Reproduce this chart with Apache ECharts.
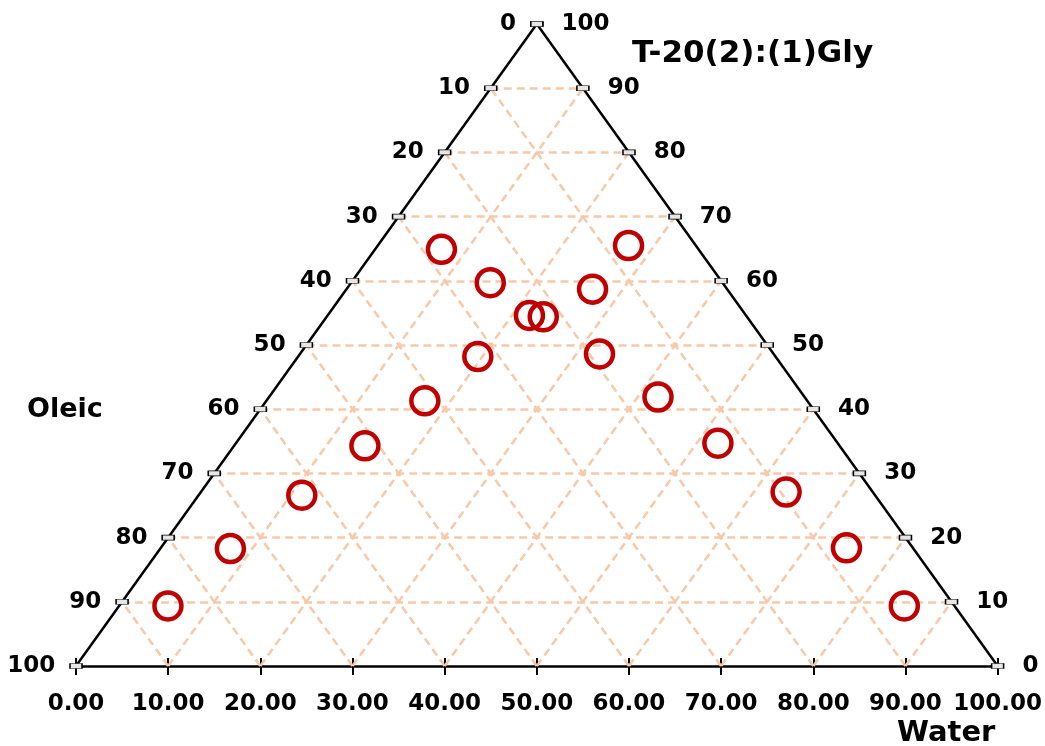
<!DOCTYPE html>
<html>
<head>
<meta charset="utf-8">
<script src="https://cdn.jsdelivr.net/npm/echarts@6/dist/echarts.min.js"></script>
<style>html,body{margin:0;padding:0;background:#fff}#c{width:1045px;height:746px}</style>
</head>
<body>
<div id="c"></div>
<script>
// ---- data (ternary compositions, %) ----
const water      = [7.2, 15.1, 21.9, 23.5, 19.5, 17.2, 14.2, 11.2, 7.6, 5.3, 27.2, 26.7, 32.5, 42.2, 52.3, 63.5, 74.4, 85.2];
const surfactant = [64.9, 59.7, 54.6, 54.4, 48.2, 41.3, 34.3, 26.6, 18.3, 9.35, 65.5, 58.7, 48.6, 41.9, 34.7, 27.1, 18.4, 9.35];
const oleic      = [27.9, 25.2, 23.5, 22.1, 32.3, 41.5, 51.5, 62.2, 74.1, 85.3, 7.3, 14.6, 18.9, 15.9, 13.0, 9.4, 7.2, 5.5];

// ---- tick labels ----
const levels = [0, 10, 20, 30, 40, 50, 60, 70, 80, 90, 100];
const waterTickLabels = ['0.00','10.00','20.00','30.00','40.00','50.00','60.00','70.00','80.00','90.00','100.00'];
const oleicTickLabels = ['100','90','80','70','60','50','40','30','20','10','0'];      // left edge, by surfactant level
const surfTickLabels  = ['0','10','20','30','40','50','60','70','80','90','100'];      // right edge, by surfactant level
const axisNames = { water: 'Water', oleic: 'Oleic', surf: 'T-20(2):(1)Gly' };

// ternary (water, surfactant) -> cartesian in the axis scale
function tern(w, t) { return [w + t / 2, t]; }

const font = '"DejaVu Sans", Verdana, sans-serif';
const gridColor = '#f8c9a8';

// grid lines
const gridLines = [];
levels.slice(1, -1).forEach(v => {
  gridLines.push({ coords: [tern(0, v), tern(100 - v, v)] });          // constant surfactant
  gridLines.push({ coords: [tern(v, 0), tern(v, 100 - v)] });          // constant water
  gridLines.push({ coords: [tern(100 - v, 0), tern(0, 100 - v)] });    // constant oleic
});
const edges = [
  { coords: [tern(0, 0), tern(0, 100)] },
  { coords: [tern(100, 0), tern(0, 100)] }
];

const leftTicks = levels.map((t, i) => ({ value: tern(0, t), label: oleicTickLabels[i] }));
const rightTicks = levels.map((t, i) => ({ value: tern(100 - t, t), label: surfTickLabels[i] }));
const points = water.map((w, i) => tern(w, surfactant[i]));

const labelStyle = { fontFamily: font, fontWeight: 'bold', fontSize: 23, color: '#000', opacity: 1, textBorderWidth: 0 };
const tickSymbol = {
  type: 'scatter', symbol: 'rect', symbolSize: [12, 5], clip: false, z: 5,
  itemStyle: { color: '#e6e6e6', borderColor: '#000', borderWidth: 1, opacity: 1 }
};

const chart = echarts.init(document.getElementById('c'), null, { renderer: 'canvas' });
chart.setOption({
  animation: false,
  backgroundColor: '#fff',
  grid: { left: 76, right: 45, top: 24, bottom: 80, containLabel: false },
  xAxis: [
    {
      type: 'value', min: 0, max: 100, interval: 10,
      splitLine: { show: false },
      axisLine: { show: true, lineStyle: { color: '#000', width: 2.5 } },
      axisTick: { show: true, length: 9, lineStyle: { color: '#000', width: 2 } },
      axisLabel: Object.assign({ margin: 27, formatter: v => waterTickLabels[Math.round(v / 10)] }, labelStyle)
    },
    {
      type: 'value', min: 0, max: 100, interval: 10, position: 'bottom',
      splitLine: { show: false },
      axisLine: { show: false },
      axisTick: { show: true, inside: true, length: 8, lineStyle: { color: '#000', width: 2 } },
      axisLabel: { show: false }
    }
  ],
  yAxis: { type: 'value', min: 0, max: 100, show: false },
  graphic: [
    { type: 'text', left: 27, top: 396, style: { text: axisNames.oleic, font: 'bold 27px "DejaVu Sans"', fill: '#000' } },
    { type: 'text', left: 632, top: 38, style: { text: axisNames.surf, font: 'bold 31px "DejaVu Sans"', fill: '#000' } },
    { type: 'text', left: 897, top: 719, style: { text: axisNames.water, font: 'bold 29px "DejaVu Sans"', fill: '#000' } }
  ],
  series: [
    {
      type: 'lines', coordinateSystem: 'cartesian2d', data: gridLines, clip: false, silent: true, z: 1,
      lineStyle: { color: gridColor, width: 2.5, type: [8, 5], opacity: 1 }
    },
    {
      type: 'lines', coordinateSystem: 'cartesian2d', data: edges, clip: false, silent: true, z: 3,
      lineStyle: { color: '#000', width: 2.5, type: 'solid', opacity: 1 }
    },
    Object.assign({}, tickSymbol, {
      data: leftTicks,
      label: Object.assign({ show: true, position: 'left', distance: 14, formatter: p => p.data.label }, labelStyle)
    }),
    Object.assign({}, tickSymbol, {
      data: rightTicks,
      label: Object.assign({ show: true, position: 'right', distance: 18, formatter: p => p.data.label }, labelStyle)
    }),
    {
      type: 'scatter', data: points, symbol: 'circle', symbolSize: 27, clip: false, z: 10,
      itemStyle: { color: 'rgba(0,0,0,0)', borderColor: '#c00000', borderWidth: 4.5, opacity: 1 }
    }
  ]
});
</script>
</body>
</html>
